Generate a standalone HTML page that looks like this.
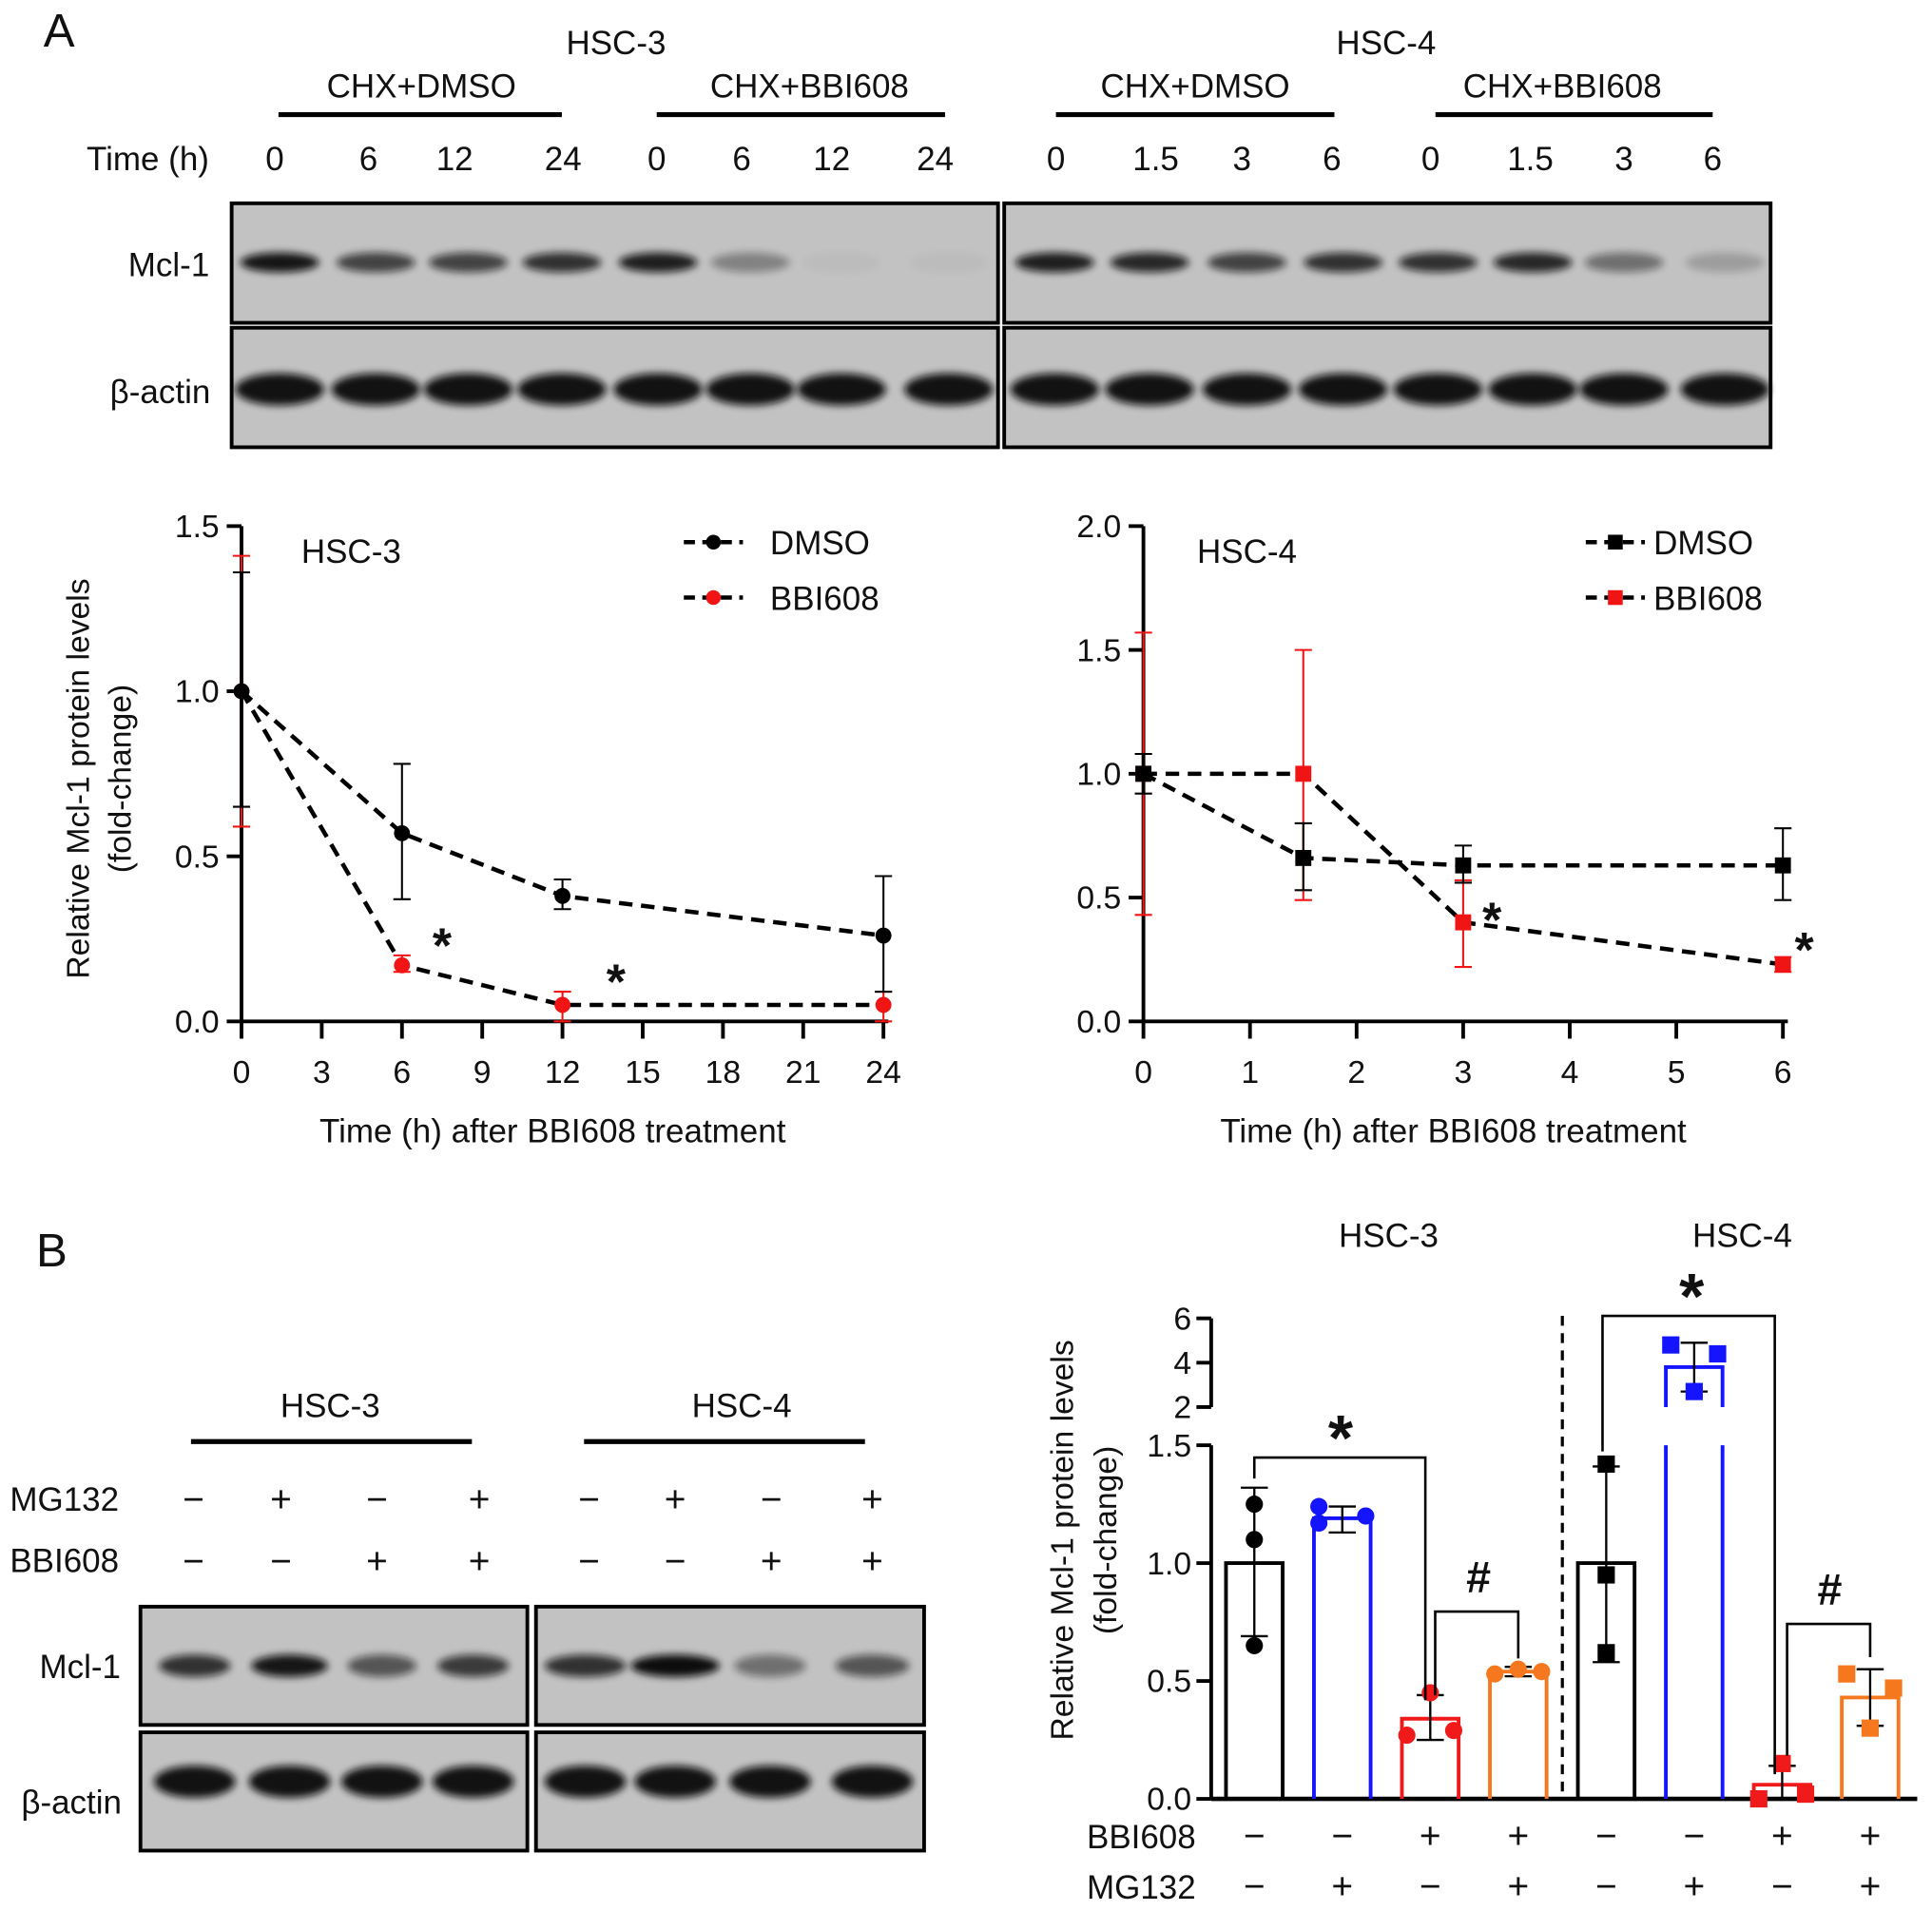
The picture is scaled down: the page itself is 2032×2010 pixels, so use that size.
<!DOCTYPE html>
<html><head><meta charset="utf-8">
<style>
html,body{margin:0;padding:0;background:#fff;}
svg{display:block;font-family:"Liberation Sans Narrow","Liberation Sans",sans-serif;}
</style></head>
<body>
<svg id="fig" width="2032" height="2010" viewBox="0 0 1568 1551" xmlns="http://www.w3.org/2000/svg">
<defs>
<filter id="blur" x="-30%" y="-80%" width="160%" height="260%"><feGaussianBlur stdDeviation="3"/></filter>
</defs>
<g id="root"></g>
</svg>
<script>
// ---------- data ----------
const timesA3 = [0, 6, 12, 24];
const dmsoA3 = [1.0, 0.57, 0.38, 0.26];
const dmsoA3Lo = [0.65, 0.37, 0.34, 0.09];
const dmsoA3Hi = [1.36, 0.78, 0.43, 0.44];
const bbiA3 = [1.0, 0.17, 0.05, 0.05];
const bbiA3Lo = [0.59, 0.15, 0.0, 0.0];
const bbiA3Hi = [1.41, 0.20, 0.09, 0.09];
const xTicksA3 = [0, 3, 6, 9, 12, 15, 18, 21, 24];
const yTicksA3 = [0.0, 0.5, 1.0, 1.5];

const timesA4 = [0, 1.5, 3, 6];
const dmsoA4 = [1.0, 0.66, 0.63, 0.63];
const dmsoA4Lo = [0.92, 0.53, 0.56, 0.49];
const dmsoA4Hi = [1.08, 0.80, 0.71, 0.78];
const bbiA4 = [1.0, 1.0, 0.40, 0.23];
const bbiA4Lo = [0.43, 0.49, 0.22, 0.20];
const bbiA4Hi = [1.57, 1.50, 0.57, 0.26];
const xTicksA4 = [0, 1, 2, 3, 4, 5, 6];
const yTicksA4 = [0.0, 0.5, 1.0, 1.5, 2.0];

const barGroups = ['HSC-3', 'HSC-3', 'HSC-3', 'HSC-3', 'HSC-4', 'HSC-4', 'HSC-4', 'HSC-4'];
const barMeans = [1.0, 1.19, 0.34, 0.54, 1.0, 3.8, 0.06, 0.43];
const barLo = [0.69, 1.13, 0.25, 0.52, 0.58, 2.7, 0.0, 0.31];
const barHi = [1.32, 1.24, 0.44, 0.56, 1.41, 4.9, 0.14, 0.55];
const barPts = [[1.25, 1.1, 0.65], [1.24, 1.17, 1.2], [0.45, 0.27, 0.29], [0.55, 0.53, 0.54],
                [1.42, 0.95, 0.62], [4.8, 4.4, 2.7], [0.15, 0.0, 0.02], [0.53, 0.47, 0.30]];
const barBBI = ['−', '−', '+', '+', '−', '−', '+', '+'];
const barMG = ['−', '+', '−', '+', '−', '+', '−', '+'];
const yTicksBLow = [0.0, 0.5, 1.0, 1.5];
const yTicksBHigh = [2, 4, 6];

// jitter layout (horizontal offset multipliers, not data)
const jitter = [[0, 0, 0], [-1, -1, 1], [0, -1, 1], [0, -1, 1], [0, 0, 0], [-1, 1, 0], [0, -1, 1], [-1, 1, 0]];

// ---------- helpers ----------
const NS = 'http://www.w3.org/2000/svg';
const root = document.getElementById('root');
function mk(tag, attrs, parent) {
  const e = document.createElementNS(NS, tag);
  for (const k in attrs) e.setAttribute(k, attrs[k]);
  (parent || root).appendChild(e);
  return e;
}
function txt(s, x, y, size, anchor, extra) {
  const e = mk('text', Object.assign({x: x, y: y, 'font-size': size, 'text-anchor': anchor || 'middle', fill: '#111'}, extra || {}));
  e.textContent = s;
  return e;
}
function ln(x1, y1, x2, y2, w, col, dash) {
  const a = {x1: x1, y1: y1, x2: x2, y2: y2, stroke: col || '#000', 'stroke-width': w || 2};
  if (dash) a['stroke-dasharray'] = dash;
  return mk('line', a);
}

// ---------- Panel A header ----------
let t;
t = txt('A', 48, 38, 38);


t = txt('HSC-3', 500, 44, 27);


t = txt('HSC-4', 1125, 44, 27);


const grpA = [['CHX+DMSO', 342, 226, 456], ['CHX+BBI608', 657, 533, 767], ['CHX+DMSO', 970, 857, 1083], ['CHX+BBI608', 1268, 1165, 1390]];
grpA.forEach(g => {
  const tt = txt(g[0], g[1], 79, 27);
  
  
  const l = ln(g[2], 93, g[3], 93, 4);
  
  
});
t = txt('Time (h)', 120, 138, 27);


const laneXA = [223, 299, 369, 457, 533, 602, 675, 759, 857, 938, 1008, 1081, 1161, 1242, 1318, 1390];
const laneTA = ['0', '6', '12', '24', '0', '6', '12', '24', '0', '1.5', '3', '6', '0', '1.5', '3', '6'];
laneXA.forEach((x, i) => {
  const tt = txt(laneTA[i], x, 138, 27);
  
  
});

function blotBox(x, y, w, h, name) {
  const r = mk('rect', {x: x, y: y, width: w, height: h, fill: '#c2c2c2', stroke: '#000', 'stroke-width': 3});
  
  
}
function band(x, y, w, h, op, name) {
  const e = mk('ellipse', {cx: x, cy: y, rx: w / 2, ry: h / 2, fill: '#111', opacity: op, filter: 'url(#blur)'});
  
  
}
blotBox(188, 165, 622, 97, 'blot-a-hsc3-mcl1');
blotBox(815, 165, 622, 97, 'blot-a-hsc4-mcl1');
blotBox(188, 266, 622, 97, 'blot-a-hsc3-actin');
blotBox(815, 266, 622, 97, 'blot-a-hsc4-actin');
const mclA = [0.95, 0.7, 0.7, 0.8, 0.9, 0.35, 0.03, 0.03, 0.9, 0.85, 0.7, 0.8, 0.8, 0.85, 0.45, 0.2];
const bandXA = [227, 305, 380, 456, 534, 609, 683, 770, 856, 933, 1012, 1090, 1167, 1244, 1318, 1400];
bandXA.forEach((x, i) => {
  band(x, 213, 64, 16, mclA[i], 'mcl1-band');
  band(x, 316, 72, 26, 0.97, 'actin-band');
});
t = txt('Mcl-1', 137, 224, 27);


t = txt('β-actin', 130, 327, 27);



// ---------- line charts ----------
function lineChart(cfg) {
  const sx = v => cfg.x0 + (v - cfg.xmin) / (cfg.xmax - cfg.xmin) * (cfg.x1 - cfg.x0);
  const sy = v => cfg.y0 - (v - cfg.ymin) / (cfg.ymax - cfg.ymin) * (cfg.y0 - cfg.y1);
  let e;
  e = ln(cfg.x0, cfg.y1, cfg.x0, cfg.y0, 3);
  
  
  e = ln(cfg.x0, cfg.y0, cfg.x1 + 4, cfg.y0, 3);
  
  
  cfg.yTicks.forEach(v => {
    const tk = ln(cfg.x0 - 12, sy(v), cfg.x0, sy(v), 3);
    
    
    const tl = txt(v.toFixed(1), cfg.x0 - 18, sy(v) + 9, 26, 'end');
    
    
  });
  cfg.xTicks.forEach(v => {
    const tk = ln(sx(v), cfg.y0, sx(v), cfg.y0 + 14, 3);
    
    
    const tl = txt(String(v), sx(v), cfg.y0 + 50, 26);
    
    
  });
  e = txt('Time (h) after BBI608 treatment', (cfg.x0 + cfg.x1) / 2 - 8, cfg.y0 + 98, 27);
  
  
  e = txt(cfg.title, cfg.titleX, cfg.y1 + 30, 27);
  
  
  const series = [
    {v: cfg.bbi, lo: cfg.bbiLo, hi: cfg.bbiHi, col: '#f01414', name: 'bbi608'},
    {v: cfg.dmso, lo: cfg.dmsoLo, hi: cfg.dmsoHi, col: '#000', name: 'dmso'}
  ];
  series.forEach(s => {
    const pts = cfg.t.map((tv, i) => sx(tv) + ',' + sy(s.v[i])).join(' ');
    const pl = mk('polyline', {points: pts, fill: 'none', stroke: '#000', 'stroke-width': 3.5, 'stroke-dasharray': '11 7'});
    
    
    cfg.t.forEach((tv, i) => {
      const x = sx(tv);
      const eb = ln(x, sy(s.lo[i]), x, sy(s.hi[i]), 1.6, s.col);
      
      
      const c1 = ln(x - 7, sy(s.lo[i]), x + 7, sy(s.lo[i]), 1.6, s.col);
      
      
      const c2 = ln(x - 7, sy(s.hi[i]), x + 7, sy(s.hi[i]), 1.6, s.col);
      
      
      let m;
      if (cfg.square) m = mk('rect', {x: x - 6.5, y: sy(s.v[i]) - 6.5, width: 13, height: 13, fill: s.col});
      else m = mk('circle', {cx: x, cy: sy(s.v[i]), r: 6.5, fill: s.col});
      
      
    });
  });
  cfg.stars.forEach(st => {
    const s = txt('*', sx(st[0]), sy(st[1]) + 22, 40, 'middle', {'font-weight': 'bold'});
    
    
  });
  const leg = [['DMSO', '#000', cfg.y1 + 13], ['BBI608', '#f01414', cfg.y1 + 58]];
  leg.forEach(L => {
    const l = ln(cfg.legX, L[2], cfg.legX + 48, L[2], 3.5, '#000', '9 6');
    
    
    let m;
    if (cfg.square) m = mk('rect', {x: cfg.legX + 18, y: L[2] - 6, width: 12, height: 12, fill: L[1]});
    else m = mk('circle', {cx: cfg.legX + 24, cy: L[2], r: 6, fill: L[1]});
    
    
    const lt = txt(L[0], cfg.legX + cfg.legT, L[2] + 10, 27, 'start');
    
    
  });
}
lineChart({id: 'chart-a-hsc3', x0: 196, x1: 717, y0: 829, y1: 427, xmin: 0, xmax: 24, ymin: 0, ymax: 1.5,
  t: timesA3, dmso: dmsoA3, dmsoLo: dmsoA3Lo, dmsoHi: dmsoA3Hi, bbi: bbiA3, bbiLo: bbiA3Lo, bbiHi: bbiA3Hi,
  xTicks: xTicksA3, yTicks: yTicksA3, title: 'HSC-3', titleX: 285, legX: 555, legT: 70, square: false,
  stars: [[7.5, 0.26], [14.0, 0.15]]});
lineChart({id: 'chart-a-hsc4', x0: 928, x1: 1447, y0: 829, y1: 427, xmin: 0, xmax: 6, ymin: 0, ymax: 2.0,
  t: timesA4, dmso: dmsoA4, dmsoLo: dmsoA4Lo, dmsoHi: dmsoA4Hi, bbi: bbiA4, bbiLo: bbiA4Lo, bbiHi: bbiA4Hi,
  xTicks: xTicksA4, yTicks: yTicksA4, title: 'HSC-4', titleX: 1012, legX: 1287, legT: 55, square: true,
  stars: [[3.27, 0.45], [6.2, 0.33]]});
t = txt('Relative Mcl-1 protein levels', 0, 0, 26, 'middle', {transform: 'translate(72,632) rotate(-90)'});


t = txt('(fold-change)', 0, 0, 26, 'middle', {transform: 'translate(106,632) rotate(-90)'});



// ---------- Panel B blot ----------
t = txt('B', 42, 1028, 38);


[['HSC-3', 268, 155, 383], ['HSC-4', 602, 474, 702]].forEach(g => {
  const tt = txt(g[0], g[1], 1150, 27);
  
  
  const l = ln(g[2], 1170, g[3], 1170, 4);
  
  
});
t = txt('MG132', 8, 1226, 27, 'start');


t = txt('BBI608', 8, 1276, 27, 'start');


const laneXB = [157, 228, 306, 389, 478, 548, 626, 708];
const mgB = ['−', '+', '−', '+', '−', '+', '−', '+'];
const bbB = ['−', '−', '+', '+', '−', '−', '+', '+'];
laneXB.forEach((x, i) => {
  const a = txt(mgB[i], x, 1227, 30);
  
  
  const b = txt(bbB[i], x, 1277, 30);
  
  
});
blotBox(114, 1304, 314, 96, 'blot-b-hsc3-mcl1');
blotBox(435, 1304, 315, 96, 'blot-b-hsc4-mcl1');
blotBox(114, 1406, 314, 96, 'blot-b-hsc3-actin');
blotBox(435, 1406, 315, 96, 'blot-b-hsc4-actin');
const mclB = [0.8, 0.95, 0.6, 0.75, 0.8, 1.0, 0.45, 0.6];
const bandXB = [158, 235, 310, 384, 475, 548, 625, 708];
const bandWB = [58, 62, 56, 58, 66, 72, 58, 60];
bandXB.forEach((x, i) => {
  band(x, 1352, bandWB[i], 18, mclB[i], 'mcl1-band');
  band(x, 1446, 66, 26, 0.97, 'actin-band');
});
t = txt('Mcl-1', 65, 1362, 27);


t = txt('β-actin', 58, 1472, 27);



// ---------- Panel B bar chart ----------
const AX = 983, Y0 = 1460, Y15 = 1173, YH2 = 1142, YH6 = 1070;
const syL = v => Y0 - v / 1.5 * (Y0 - Y15);
const syH = v => YH2 - (v - 2) / 4 * (YH2 - YH6);
const sy = v => v <= 1.5 ? syL(v) : (v >= 2 ? syH(v) : syL(1.5));
const barX = i => 1018 + i * 71.4;
const colors = ['#000', '#1414ff', '#f01a1a', '#f5781e'];
let e;
e = ln(AX, Y15, AX, Y0, 3);


e = ln(AX, YH6, AX, YH2, 3);


e = ln(AX, Y0, 1556, Y0, 3.5);


yTicksBLow.forEach(v => {
  const tk = ln(AX - 12, syL(v), AX, syL(v), 3);
  
  
  const tl = txt(v.toFixed(1), AX - 16, syL(v) + 9, 26, 'end');
  
  
});
yTicksBHigh.forEach(v => {
  const tk = ln(AX - 12, syH(v), AX, syH(v), 3);
  
  
  const tl = txt(String(v), AX - 16, syH(v) + 9, 26, 'end');
  
  
});
t = txt('Relative Mcl-1 protein levels', 0, 0, 26, 'middle', {transform: 'translate(871,1250) rotate(-90)'});


t = txt('(fold-change)', 0, 0, 26, 'middle', {transform: 'translate(906,1250) rotate(-90)'});


t = txt('HSC-3', 1127, 1012, 27);


t = txt('HSC-4', 1414, 1012, 27);


e = ln(1268, 1068, 1268, Y0, 2.5, '#000', '8 6');



barMeans.forEach((m, i) => {
  const x = barX(i), w = 46, col = colors[i % 4];
  const top = sy(m);
  let p;
  if (m <= 1.5) {
    p = mk('path', {d: `M${x - w / 2},${Y0} V${top} H${x + w / 2} V${Y0}`, fill: 'none', stroke: col, 'stroke-width': 3});
  } else {
    p = mk('path', {d: `M${x - w / 2},${Y0} V${Y15} M${x + w / 2},${Y0} V${Y15} M${x - w / 2},${YH2} V${top} H${x + w / 2} V${YH2}`, fill: 'none', stroke: col, 'stroke-width': 3});
  }
  
  
  const eb = ln(x, sy(barLo[i]), x, sy(barHi[i]), 1.8, '#000');
  
  
  [barLo[i], barHi[i]].forEach(v => {
    const c = ln(x - 11, sy(v), x + 11, sy(v), 1.8, '#000');
    
    
  });
  barPts[i].forEach((v, j) => {
    const px = x + jitter[i][j] * 19;
    let d;
    if (i < 4) d = mk('circle', {cx: px, cy: sy(v), r: 7, fill: col});
    else d = mk('rect', {x: px - 7, y: sy(v) - 7, width: 14, height: 14, fill: col});
    
    
  });
  const s1 = txt(barBBI[i], x, 1500, 30);
  
  
  const s2 = txt(barMG[i], x, 1541, 30);
  
  
});
t = txt('BBI608', 882, 1500, 27, 'start');


t = txt('MG132', 882, 1541, 27, 'start');



function bracket(x1, x2, yTop, yL, yR, label, lx, ly, size, name) {
  const p = mk('path', {d: `M${x1},${yL} V${yTop} H${x2} V${yR}`, fill: 'none', stroke: '#000', 'stroke-width': 2});
  
  
  const s = txt(label, lx, ly, size, 'middle', {'font-weight': 'bold'});
  
  
}
bracket(barX(0), barX(2) - 4, 1183, 1200, 1380, '*', 1088, 1185, 52, 'hsc3-star-bracket');
bracket(barX(4) - 3, barX(6) - 6, 1068, 1178, 1440, '*', 1373, 1070, 52, 'hsc4-star-bracket');
bracket(barX(2) + 4, barX(3), 1308, 1376, 1346, '#', 1200, 1292, 36, 'hsc3-hash-bracket');
bracket(barX(6) + 4, barX(7), 1318, 1425, 1345, '#', 1485, 1302, 36, 'hsc4-hash-bracket');
</script>
</body></html>
